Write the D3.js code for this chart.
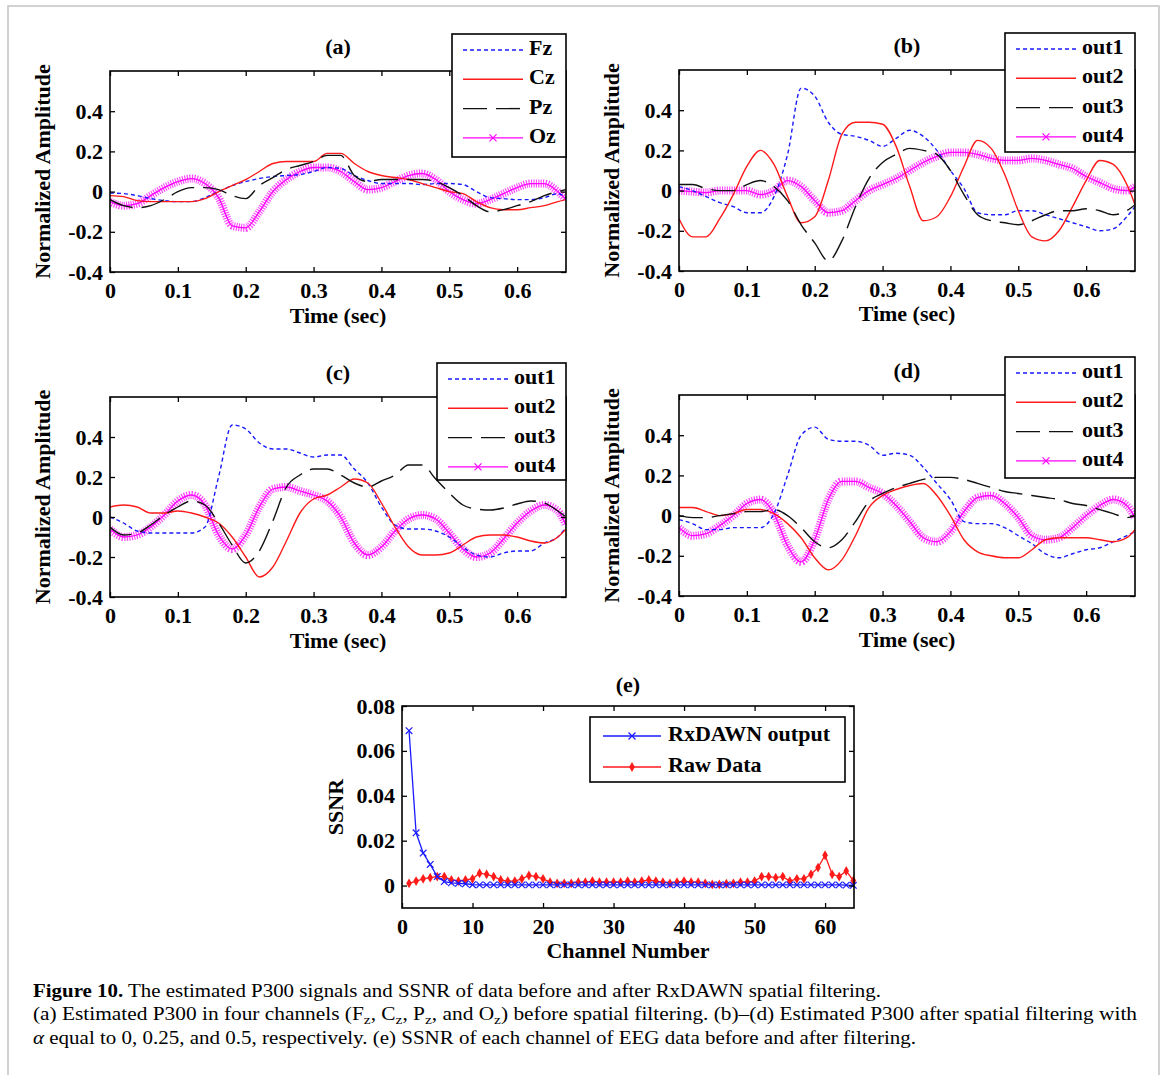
<!DOCTYPE html>
<html>
<head>
<meta charset="utf-8">
<script src="https://cdn.jsdelivr.net/npm/d3@7"></script>
<style>
  body { margin: 0; background: #fff; }
  svg text { font-family: "Liberation Serif", "Times New Roman", serif; fill: #000; }
</style>
</head>
<body>
<svg id="fig" width="1167" height="1075"></svg>
<script>
// ---- data ----
var timeSec = [0, 0.02, 0.04, 0.06, 0.08, 0.10, 0.12, 0.14, 0.16, 0.18,
  0.20, 0.22, 0.24, 0.26, 0.28, 0.30, 0.32, 0.34, 0.36, 0.38,
  0.40, 0.42, 0.44, 0.46, 0.48, 0.50, 0.52, 0.54, 0.56, 0.58,
  0.60, 0.62, 0.64, 0.66, 0.672];

// (a) raw channels
var fzA = [-0.007, -0.01, -0.02, -0.035, -0.045, -0.05, -0.05, -0.03, 0, 0.03,
  0.05, 0.065, 0.075, 0.08, 0.085, 0.10, 0.12, 0.115, 0.08, 0.055,
  0.04, 0.04, 0.04, 0.035, 0.04, 0.04, 0.035, 0.0, -0.03, -0.035,
  -0.04, -0.04, -0.03, -0.01, -0.03];
var czA = [-0.02, -0.025, -0.045, -0.05, -0.05, -0.05, -0.05, -0.035, 0, 0.03,
  0.06, 0.10, 0.14, 0.15, 0.15, 0.15, 0.19, 0.19, 0.14, 0.10,
  0.08, 0.07, 0.06, 0.04, 0.02, 0, -0.01, -0.05, -0.08, -0.09,
  -0.09, -0.08, -0.07, -0.05, -0.04];
var pzA = [-0.04, -0.07, -0.08, -0.07, -0.04, 0, 0.02, 0.02, 0.01, -0.02,
  -0.035, 0.03, 0.07, 0.11, 0.13, 0.15, 0.18, 0.18, 0.08, 0.05,
  0.06, 0.06, 0.06, 0.06, 0.05, 0.02, -0.02, -0.07, -0.10, -0.09,
  -0.07, -0.05, -0.02, 0, 0.01];
var ozA = [-0.05, -0.07, -0.06, -0.02, 0.02, 0.05, 0.065, 0.04, -0.03, -0.17,
  -0.18, -0.10, 0.0, 0.06, 0.10, 0.12, 0.12, 0.10, 0.05, 0.01,
  0.02, 0.05, 0.08, 0.09, 0.06, 0.0, -0.04, -0.06, -0.04, -0.01,
  0.02, 0.04, 0.04, 0.0, -0.04];

// (b) alpha = 0
var out1B = [0.02, 0.0, -0.03, -0.06, -0.08, -0.11, -0.11, -0.03, 0.18, 0.51,
  0.47, 0.34, 0.28, 0.27, 0.25, 0.22, 0.26, 0.30, 0.27, 0.20,
  0.10, 0.01, -0.11, -0.12, -0.12, -0.10, -0.10, -0.12, -0.14, -0.16,
  -0.18, -0.20, -0.19, -0.13, -0.08];
var out2B = [-0.14, -0.23, -0.23, -0.14, -0.02, 0.12, 0.20, 0.13, -0.03, -0.16,
  -0.13, 0.05, 0.28, 0.34, 0.34, 0.33, 0.22, 0.02, -0.15, -0.13,
  -0.03, 0.12, 0.25, 0.21, 0.08, -0.10, -0.23, -0.25, -0.20, -0.08,
  0.05, 0.15, 0.13, 0.03, -0.07];
var out3B = [0.03, 0.03, 0.01, 0, 0, 0.03, 0.05, 0.02, -0.05, -0.17,
  -0.26, -0.35, -0.25, -0.08, 0.06, 0.14, 0.18, 0.21, 0.20, 0.18,
  0.10, -0.02, -0.12, -0.15, -0.16, -0.17, -0.15, -0.12, -0.10, -0.10,
  -0.09, -0.10, -0.12, -0.10, -0.07];
var out4B = [0, -0.005, -0.01, 0, 0, 0, -0.02, 0, 0.05, 0.02,
  -0.05, -0.11, -0.10, -0.05, 0, 0.03, 0.06, 0.10, 0.14, 0.17,
  0.19, 0.19, 0.18, 0.16, 0.15, 0.15, 0.16, 0.15, 0.13, 0.11,
  0.07, 0.04, 0.01, 0, 0.02];

// (c) alpha = 0.25
var out1C = [0, -0.03, -0.07, -0.08, -0.08, -0.08, -0.08, -0.05, 0.20, 0.46,
  0.44, 0.37, 0.34, 0.34, 0.32, 0.30, 0.31, 0.31, 0.24, 0.17,
  0.05, -0.04, -0.06, -0.06, -0.07, -0.10, -0.15, -0.19, -0.20, -0.18,
  -0.17, -0.17, -0.13, -0.10, -0.05];
var out2C = [0.05, 0.06, 0.05, 0.02, 0.02, 0.03, 0.02, 0, -0.03, -0.10,
  -0.20, -0.30, -0.25, -0.12, 0.02, 0.09, 0.11, 0.15, 0.19, 0.17,
  0.07, -0.05, -0.15, -0.19, -0.19, -0.18, -0.14, -0.10, -0.09, -0.09,
  -0.10, -0.12, -0.13, -0.10, -0.06];
var out3C = [-0.05, -0.09, -0.08, -0.04, 0.01, 0.05, 0.08, 0.06, -0.03, -0.14,
  -0.23, -0.17, -0.02, 0.15, 0.21, 0.24, 0.24, 0.21, 0.17, 0.15,
  0.18, 0.21, 0.26, 0.26, 0.19, 0.12, 0.06, 0.04, 0.035, 0.045,
  0.065, 0.08, 0.07, 0.03, 0];
var out4C = [-0.06, -0.10, -0.09, -0.05, 0.01, 0.08, 0.11, 0.06, -0.09, -0.16,
  -0.09, 0.05, 0.14, 0.15, 0.13, 0.11, 0.08, 0, -0.13, -0.19,
  -0.15, -0.07, -0.01, 0.01, -0.01, -0.08, -0.16, -0.20, -0.18, -0.11,
  -0.03, 0.03, 0.06, 0.03, -0.04];

// (d) alpha = 0.5
var out1D = [-0.02, -0.04, -0.07, -0.07, -0.06, -0.06, -0.06, 0.01, 0.20, 0.40,
  0.44, 0.38, 0.37, 0.37, 0.35, 0.30, 0.31, 0.30, 0.24, 0.16,
  0.08, -0.03, -0.04, -0.04, -0.06, -0.10, -0.14, -0.19, -0.21, -0.19,
  -0.17, -0.16, -0.13, -0.10, -0.08];
var out2D = [0.04, 0.04, 0.02, 0, 0.01, 0.03, 0.03, 0.01, -0.04, -0.11,
  -0.21, -0.27, -0.22, -0.10, 0.04, 0.10, 0.13, 0.15, 0.16, 0.10,
  0, -0.12, -0.18, -0.20, -0.21, -0.21, -0.17, -0.12, -0.11, -0.11,
  -0.11, -0.12, -0.13, -0.11, -0.07];
var out3D = [0, -0.01, -0.01, 0, 0.01, 0.02, 0.02, 0.03, 0, -0.06,
  -0.13, -0.16, -0.12, -0.03, 0.07, 0.11, 0.14, 0.16, 0.18, 0.19,
  0.19, 0.18, 0.16, 0.14, 0.12, 0.11, 0.10, 0.09, 0.08, 0.06,
  0.05, 0.03, 0.01, -0.01, 0];
var out4D = [-0.06, -0.10, -0.09, -0.05, 0, 0.06, 0.08, 0.01, -0.15, -0.23,
  -0.12, 0.08, 0.17, 0.17, 0.14, 0.11, 0.05, -0.03, -0.11, -0.13,
  -0.08, 0.02, 0.09, 0.10, 0.06, -0.01, -0.10, -0.12, -0.11, -0.06,
  0, 0.05, 0.08, 0.05, -0.01];

// (e) SSNR per channel
var channels = [1, 2, 3, 4, 5, 6, 7, 8, 9, 10, 11, 12, 13, 14, 15, 16,
  17, 18, 19, 20, 21, 22, 23, 24, 25, 26, 27, 28, 29, 30, 31, 32,
  33, 34, 35, 36, 37, 38, 39, 40, 41, 42, 43, 44, 45, 46, 47, 48,
  49, 50, 51, 52, 53, 54, 55, 56, 57, 58, 59, 60, 61, 62, 63, 64];
var ssnrRxdawn = [0.069, 0.0235, 0.0145, 0.0094, 0.004, 0.0018, 0.0012, 0.001, 0.0008, 0.0004,
  0.0003, 0.0003, 0.0003, 0.0003, 0.0003, 0.0003, 0.0003, 0.0003, 0.0003, 0.0003,
  0.0003, 0.0003, 0.0003, 0.0003, 0.0003, 0.0003, 0.0003, 0.0003, 0.0003, 0.0003,
  0.0003, 0.0003, 0.0003, 0.0003, 0.0003, 0.0003, 0.0003, 0.0003, 0.0003, 0.0003,
  0.0003, 0.0003, 0.0003, 0.0003, 0.0003, 0.0003, 0.0003, 0.0003, 0.0003, 0.0003,
  0.0003, 0.0003, 0.0003, 0.0003, 0.0003, 0.0003, 0.0003, 0.0003, 0.0003, 0.0003,
  0.0003, 0.0003, 0.0002, 0.0001];
var ssnrRaw = [0.001, 0.002, 0.003, 0.0035, 0.004, 0.004, 0.0025, 0.002, 0.0025, 0.003,
  0.0055, 0.005, 0.004, 0.0025, 0.002, 0.002, 0.003, 0.0045, 0.004, 0.003,
  0.0015, 0.001, 0.001, 0.001, 0.0015, 0.0015, 0.002, 0.0015, 0.0015, 0.0015,
  0.0015, 0.002, 0.0015, 0.002, 0.0025, 0.002, 0.0015, 0.001, 0.0015, 0.002,
  0.0015, 0.0015, 0.001, 0.0005, 0.0005, 0.0008, 0.001, 0.0015, 0.0015, 0.002,
  0.004, 0.004, 0.0035, 0.004, 0.002, 0.003, 0.003, 0.005, 0.008, 0.0135,
  0.005, 0.004, 0.0065, 0.0022];

var timeTicks = [0, 0.1, 0.2, 0.3, 0.4, 0.5, 0.6];
var ampTicks = [-0.4, -0.2, 0, 0.2, 0.4];
var channelTicks = [0, 10, 20, 30, 40, 50, 60];
var ssnrTicks = [0, 0.02, 0.04, 0.06, 0.08];

// ---- styles ----
var styles = {
  dot:   { color: "#1a1aff", dash: "4,3", width: 1.4 },
  solid: { color: "#ff1a1a", dash: null, width: 1.4 },
  dash:  { color: "#111", dash: "24,9", width: 1.4 },
  star:  { color: "#ff00ff", dash: null, width: 1.3, band: true }
};

var svg = d3.select("#fig");
var FONT = 22;

// light frame around the figure
svg.append("path")
  .attr("d", "M8,1080 L8,6 L1159,6 L1159,1080")
  .attr("fill", "none").attr("stroke", "#c4c4c4").attr("stroke-width", 1.5);

function fmt(d) {
  if (d === 0) return "0";
  var s = String(d);
  return s;
}

function drawAxesBox(g, x, y, b, xTicks, yTicks) {
  g.append("g")
    .attr("transform", "translate(0," + b.bottom + ")")
    .call(d3.axisBottom(x).tickValues(xTicks).tickFormat(fmt)
      .tickSizeInner(-5).tickSizeOuter(0).tickPadding(10))
    .call(function(a) { a.select(".domain").remove(); });
  g.append("g")
    .attr("transform", "translate(0," + b.top + ")")
    .call(d3.axisTop(x).tickValues(xTicks).tickFormat("")
      .tickSizeInner(-5).tickSizeOuter(0))
    .call(function(a) { a.select(".domain").remove(); });
  g.append("g")
    .attr("transform", "translate(" + b.left + ",0)")
    .call(d3.axisLeft(y).tickValues(yTicks).tickFormat(fmt)
      .tickSizeInner(-5).tickSizeOuter(0).tickPadding(7))
    .call(function(a) { a.select(".domain").remove(); });
  g.append("g")
    .attr("transform", "translate(" + b.right + ",0)")
    .call(d3.axisRight(y).tickValues(yTicks).tickFormat("")
      .tickSizeInner(-5).tickSizeOuter(0))
    .call(function(a) { a.select(".domain").remove(); });

  g.selectAll(".tick line").attr("stroke", "#000").attr("stroke-width", 1.3);
  g.selectAll(".tick text")
    .attr("font-family", "Liberation Serif, Times New Roman, serif")
    .attr("font-size", FONT).attr("font-weight", "bold").attr("fill", "#000");

  g.append("rect")
    .attr("x", b.left).attr("y", b.top)
    .attr("width", b.right - b.left).attr("height", b.bottom - b.top)
    .attr("fill", "none").attr("stroke", "#000").attr("stroke-width", 1.6);
}

function drawLabels(g, b, title, titleY, xLabel, xLabelY, yLabel, yLabelX) {
  var cx = (b.left + b.right) / 2, cy = (b.top + b.bottom) / 2;
  g.append("text").attr("x", cx).attr("y", titleY)
    .attr("text-anchor", "middle").attr("dominant-baseline", "middle")
    .attr("font-size", FONT).attr("font-weight", "bold").text(title);
  g.append("text").attr("x", cx).attr("y", xLabelY)
    .attr("text-anchor", "middle").attr("dominant-baseline", "middle")
    .attr("font-size", FONT).attr("font-weight", "bold").text(xLabel);
  g.append("text")
    .attr("transform", "translate(" + yLabelX + "," + cy + ") rotate(-90)")
    .attr("text-anchor", "middle").attr("dominant-baseline", "middle")
    .attr("font-size", FONT).attr("font-weight", "bold").text(yLabel);
}

function xMark(sel, cx, cy, r, color) {
  sel.append("path")
    .attr("d", "M" + (cx - r) + "," + (cy - r) + "L" + (cx + r) + "," + (cy + r) +
      "M" + (cx - r) + "," + (cy + r) + "L" + (cx + r) + "," + (cy - r))
    .attr("stroke", color).attr("stroke-width", 1.2).attr("fill", "none");
}

function drawSeries(g, line, values, st) {
  if (st.band) {
    g.append("path").datum(values).attr("d", line)
      .attr("fill", "none").attr("stroke", st.color).attr("stroke-opacity", 0.75)
      .attr("stroke-width", 8).attr("stroke-dasharray", "1.1,1.3");
  }
  g.append("path").datum(values).attr("d", line)
    .attr("fill", "none").attr("stroke", st.color)
    .attr("stroke-width", st.width)
    .attr("stroke-dasharray", st.dash);
}

function drawLegend(g, lg, names, sts) {
  g.append("rect").attr("x", lg.left).attr("y", lg.top)
    .attr("width", lg.right - lg.left).attr("height", lg.bottom - lg.top)
    .attr("fill", "#fff").attr("stroke", "#000").attr("stroke-width", 1.6);
  names.forEach(function(n, i) {
    var yy = lg.top + 16 + i * 29.3;
    var st = sts[i];
    var x0 = lg.left + 11, x1 = lg.left + 71;
    g.append("line").attr("x1", x0).attr("x2", x1).attr("y1", yy).attr("y2", yy)
      .attr("stroke", st.color).attr("stroke-width", st.width)
      .attr("stroke-dasharray", st.dash);
    if (st.band) xMark(g, (x0 + x1) / 2, yy, 3.5, st.color);
    g.append("text").attr("x", lg.left + 77).attr("y", yy)
      .attr("dominant-baseline", "middle")
      .attr("font-size", FONT).attr("font-weight", "bold").text(n);
  });
}

function drawTimePanel(p) {
  var b = p.box;
  var x = d3.scaleLinear().domain([0, 0.672]).range([b.left, b.right]);
  var y = d3.scaleLinear().domain([-0.4, 0.6]).range([b.bottom, b.top]);
  var g = svg.append("g");

  svg.append("clipPath").attr("id", "clip-" + p.id).append("rect")
    .attr("x", b.left).attr("y", b.top)
    .attr("width", b.right - b.left).attr("height", b.bottom - b.top);

  var line = d3.line()
    .x(function(d, i) { return x(timeSec[i]); })
    .y(function(d) { return y(d); })
    .curve(d3.curveMonotoneX);

  var plot = g.append("g").attr("clip-path", "url(#clip-" + p.id + ")");
  // draw order: magenta first so the thin lines stay on top like the original
  var order = [3, 0, 1, 2];
  order.forEach(function(k) { drawSeries(plot, line, p.series[k], p.styles[k]); });

  drawAxesBox(g, x, y, b, timeTicks, ampTicks);
  drawLabels(g, b, p.title, p.titleY, "Time (sec)", p.xLabelY, "Normalized Amplitude", p.yLabelX);
  drawLegend(g, p.legend, p.names, p.styles);
}

var st4 = [styles.dot, styles.solid, styles.dash, styles.star];

drawTimePanel({
  id: "a", title: "(a)", titleY: 49, xLabelY: 318, yLabelX: 45,
  box: { left: 110, right: 566, top: 71, bottom: 272 },
  legend: { left: 452, right: 566, top: 34, bottom: 157 },
  names: ["Fz", "Cz", "Pz", "Oz"],
  series: [fzA, czA, pzA, ozA], styles: st4
});
drawTimePanel({
  id: "b", title: "(b)", titleY: 48, xLabelY: 316, yLabelX: 614,
  box: { left: 679, right: 1135, top: 70, bottom: 271 },
  legend: { left: 1005, right: 1135, top: 33, bottom: 152 },
  names: ["out1", "out2", "out3", "out4"],
  series: [out1B, out2B, out3B, out4B], styles: st4
});
drawTimePanel({
  id: "c", title: "(c)", titleY: 375, xLabelY: 643, yLabelX: 45,
  box: { left: 110, right: 566, top: 397, bottom: 597 },
  legend: { left: 437, right: 566, top: 363, bottom: 480 },
  names: ["out1", "out2", "out3", "out4"],
  series: [out1C, out2C, out3C, out4C], styles: st4
});
drawTimePanel({
  id: "d", title: "(d)", titleY: 373, xLabelY: 642, yLabelX: 614,
  box: { left: 679, right: 1135, top: 395, bottom: 596 },
  legend: { left: 1005, right: 1135, top: 357, bottom: 478 },
  names: ["out1", "out2", "out3", "out4"],
  series: [out1D, out2D, out3D, out4D], styles: st4
});

// ---- (e) SSNR panel ----
(function() {
  var b = { left: 402, right: 854, top: 706, bottom: 908 };
  var x = d3.scaleLinear().domain([0, 64.1]).range([b.left, b.right]);
  var y = d3.scaleLinear().domain([-0.01, 0.08]).range([b.bottom, b.top]);
  var g = svg.append("g");
  var blue = "#1a1aff", red = "#ff1a1a";

  var line = d3.line()
    .x(function(d, i) { return x(channels[i]); })
    .y(function(d) { return y(d); });

  g.append("path").datum(ssnrRaw).attr("d", line)
    .attr("fill", "none").attr("stroke", red).attr("stroke-width", 1.3);
  g.selectAll(".rawpt").data(ssnrRaw).enter().append("path")
    .attr("class", "rawpt")
    .attr("transform", function(d, i) { return "translate(" + x(channels[i]) + "," + y(d) + ")"; })
    .attr("d", d3.symbol().type(d3.symbolDiamond).size(28))
    .attr("fill", red);

  g.append("path").datum(ssnrRxdawn).attr("d", line)
    .attr("fill", "none").attr("stroke", blue).attr("stroke-width", 1.3);
  ssnrRxdawn.forEach(function(d, i) { xMark(g, x(channels[i]), y(d), 3.3, blue); });

  drawAxesBox(g, x, y, b, channelTicks, ssnrTicks);
  drawLabels(g, b, "(e)", 687, "Channel Number", 953, "SSNR", 338);

  var lg = { left: 590, right: 845, top: 717, bottom: 782 };
  g.append("rect").attr("x", lg.left).attr("y", lg.top)
    .attr("width", lg.right - lg.left).attr("height", lg.bottom - lg.top)
    .attr("fill", "#fff").attr("stroke", "#000").attr("stroke-width", 1.6);
  var rows = [{ n: "RxDAWN output", c: blue, y: 736 }, { n: "Raw Data", c: red, y: 767 }];
  rows.forEach(function(r, i) {
    g.append("line").attr("x1", 603).attr("x2", 661).attr("y1", r.y).attr("y2", r.y)
      .attr("stroke", r.c).attr("stroke-width", 1.4);
    if (i === 0) xMark(g, 632, r.y, 3.5, blue);
    else g.append("path").attr("transform", "translate(632," + r.y + ")")
      .attr("d", d3.symbol().type(d3.symbolDiamond).size(28)).attr("fill", red);
    g.append("text").attr("x", 668).attr("y", r.y).attr("dominant-baseline", "middle")
      .attr("font-size", FONT).attr("font-weight", "bold").text(r.n);
  });
})();

// ---- caption ----
var cap = svg.append("g").attr("font-size", 18);
var l1 = cap.append("text").attr("x", 33).attr("y", 997)
  .attr("textLength", 848).attr("lengthAdjust", "spacingAndGlyphs");
l1.append("tspan").attr("font-weight", "bold").text("Figure 10.");
l1.append("tspan").text(" The estimated P300 signals and SSNR of data before and after RxDAWN spatial filtering.");

var l2 = cap.append("text").attr("x", 33).attr("y", 1020)
  .attr("textLength", 1104).attr("lengthAdjust", "spacingAndGlyphs");
var parts2 = [["(a) Estimated P300 in four channels (F", 0], ["z", 1], [", C", 0], ["z", 1],
  [", P", 0], ["z", 1], [", and O", 0], ["z", 1],
  [") before spatial filtering. (b)\u2013(d) Estimated P300 after spatial filtering with", 0]];
parts2.forEach(function(p) {
  var t = l2.append("tspan").text(p[0]);
  if (p[1]) t.attr("font-size", 13).attr("dy", 4);
  else t.attr("dy", 0);
});
// reset baseline after each subscript
l2.selectAll("tspan").each(function(d, i, nodes) {
  if (i > 0 && parts2[i - 1][1] === 1) d3.select(this).attr("dy", -4);
});

var l3 = cap.append("text").attr("x", 33).attr("y", 1044)
  .attr("textLength", 883).attr("lengthAdjust", "spacingAndGlyphs");
l3.append("tspan").attr("font-style", "italic").text("\u03b1");
l3.append("tspan").text(" equal to 0, 0.25, and 0.5, respectively. (e) SSNR of each channel of EEG data before and after filtering.");
</script>
</body>
</html>
